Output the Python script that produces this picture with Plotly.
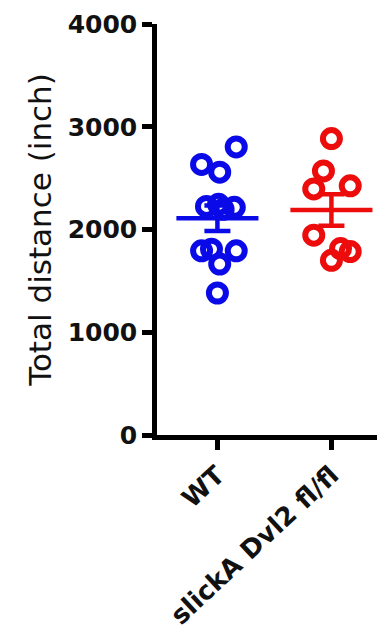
import numpy as np
import plotly.graph_objects as go

# ---- data ----
categories = ["WT", "slickA Dvl2 fl/fl"]
wt_values = [2804, 2633, 2558, 2225, 2245, 2216, 2196, 1792, 1808, 1792, 1664, 1382]
ko_values = [2885, 2570, 2395, 2425, 1945, 1815, 1785, 1700]
y_ticks = [0, 1000, 2000, 3000, 4000]

# horizontal scatter (jitter) of the dots, in category units
wt_jitter = [0.165, -0.139, 0.02, -0.096, 0.01, 0.148, 0.05, -0.139, -0.052, 0.165, 0.02, 0.0]
ko_jitter = [0.0, -0.07, -0.155, 0.165, -0.155, 0.08, 0.165, 0.0]

colors = ["#0a0ae8", "#ec0c0c"]

fig = go.Figure()

groups = [(wt_values, wt_jitter), (ko_values, ko_jitter)]
for i, (vals, jit) in enumerate(groups):
    xs = [i + j for j in jit]
    fig.add_trace(go.Scatter(
        x=xs, y=vals, mode="markers",
        marker=dict(symbol="circle-open", size=17, color=colors[i],
                    line=dict(width=6, color=colors[i])),
        showlegend=False, hoverinfo="y"))

for i, (vals, jit) in enumerate(groups):
    v = np.array(vals, dtype=float)
    mean = v.mean()
    sem = v.std(ddof=1) / np.sqrt(len(v))
    half = 0.36
    fig.add_trace(go.Scatter(
        x=[i - half, i + half], y=[mean, mean], mode="lines",
        line=dict(color=colors[i], width=4.5), showlegend=False, hoverinfo="skip"))
    fig.add_trace(go.Scatter(
        x=[i], y=[mean], mode="markers",
        marker=dict(size=1, color="rgba(0,0,0,0)"),
        error_y=dict(type="data", array=[sem], visible=True,
                     color=colors[i], thickness=4.5, width=13),
        showlegend=False, hoverinfo="skip"))

# page body has an 8px margin; figure sized so the page does not overflow
fig.update_layout(
    width=377, height=624,
    margin=dict(l=149, r=0, t=16, b=197),
    paper_bgcolor="white", plot_bgcolor="white",
    font=dict(family="DejaVu Sans", color="#111111"),
)
fig.update_xaxes(
    range=[-0.53, 1.47], tickvals=[0, 1], ticktext=categories,
    tickangle=-43, ticks="outside", ticklen=10, tickwidth=4.5, tickcolor="black",
    showline=True, linewidth=4.5, linecolor="black",
    showgrid=False, zeroline=False, automargin=False,
    tickfont=dict(family="DejaVu Sans", size=26, color="#111111", weight="bold"),
)
fig.update_yaxes(
    range=[0, 4000], tickvals=y_ticks, ticktext=[str(t) for t in y_ticks],
    ticks="outside", ticklen=10, tickwidth=4.5, tickcolor="black",
    showline=True, linewidth=4.5, linecolor="black",
    showgrid=False, zeroline=False, automargin=False,
    tickfont=dict(family="DejaVu Sans", size=25, color="#111111", weight="bold"),
    title=dict(text="Total distance (inch)", standoff=8,
               font=dict(family="DejaVu Sans", size=31, color="#111111")),
)

fig.write_html("out.html")
